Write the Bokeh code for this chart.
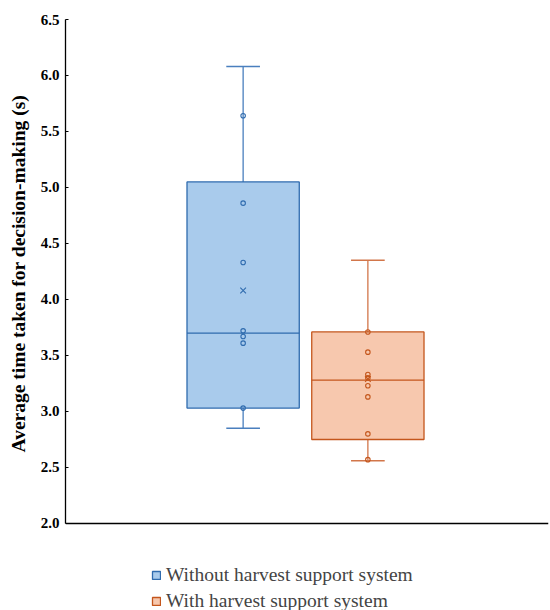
from bokeh.plotting import figure
from bokeh.models import Range1d, Legend, LegendItem, FixedTicker, ColumnDataSource, Span, PrintfTickFormatter, Title
from bokeh.embed import file_html
from bokeh.resources import INLINE

groups = ["Without harvest support system", "With harvest support system"]
positions = [1, 2]
q1 = [3.03, 2.75]
median = [3.70, 3.28]
q3 = [5.05, 3.71]
whisker_low = [2.85, 2.56]
whisker_high = [6.08, 4.35]
means = [4.08, 3.29]
points_without = [5.64, 4.86, 4.33, 3.72, 3.67, 3.61, 3.03]
points_with = [3.71, 3.53, 3.33, 3.30, 3.23, 3.13, 2.80, 2.57]
y_ticks = [2.0, 2.5, 3.0, 3.5, 4.0, 4.5, 5.0, 5.5, 6.0, 6.5]
y_min, y_max = 2.0, 6.5
y_label = "Average time taken for decision-making (s)"

fills = ["#A9CBEC", "#F7C8AE"]
lines = ["#2F6BAE", "#C4561C"]
whisker_cols = ["#4A7FBE", "#D2764A"]
SERIF = "Liberation Serif"

# frame extends below the value axis so the legend can sit under it
p = figure(width=550, height=610, output_backend="svg", toolbar_location=None,
           x_range=Range1d(-0.424, 3.448), y_range=Range1d(1.223, y_max),
           x_axis_location=None,
           min_border_left=64, min_border_right=2, min_border_top=19, min_border_bottom=0)
p.outline_line_color = None
p.grid.visible = False
p.background_fill_color = "white"

p.add_layout(Span(location=y_min, dimension="width", line_color="black", line_width=1.3))

box_w = 0.9
cap_w = 0.27
renderers = []
for i in range(2):
    x = positions[i]
    src = ColumnDataSource(dict(x=[x], top=[q3[i]], bottom=[q1[i]]))
    p.segment(x0=[x], y0=[q3[i]], x1=[x], y1=[whisker_high[i]], line_color=whisker_cols[i], line_width=1.3)
    p.segment(x0=[x], y0=[q1[i]], x1=[x], y1=[whisker_low[i]], line_color=whisker_cols[i], line_width=1.3)
    p.segment(x0=[x - cap_w / 2], y0=[whisker_high[i]], x1=[x + cap_w / 2], y1=[whisker_high[i]],
              line_color=whisker_cols[i], line_width=1.5)
    p.segment(x0=[x - cap_w / 2], y0=[whisker_low[i]], x1=[x + cap_w / 2], y1=[whisker_low[i]],
              line_color=whisker_cols[i], line_width=1.5)
    r = p.vbar(x="x", top="top", bottom="bottom", width=box_w, source=src,
               fill_color=fills[i], line_color=lines[i], line_width=1.3)
    renderers.append(r)
    p.segment(x0=[x - box_w / 2], y0=[median[i]], x1=[x + box_w / 2], y1=[median[i]],
              line_color=lines[i], line_width=1.3)
    pts = points_without if i == 0 else points_with
    p.scatter(x=[x] * len(pts), y=pts, marker="circle", size=4.5, fill_color=None,
              line_color=lines[i], line_width=1.1)
    p.scatter(x=[x], y=[means[i]], marker="x", size=8, line_color=lines[i], line_width=1.1)

p.yaxis.bounds = (y_min, y_max)
p.yaxis.ticker = FixedTicker(ticks=y_ticks)
p.yaxis.formatter = PrintfTickFormatter(format="%.1f")
p.yaxis.minor_tick_line_color = None
p.yaxis.major_tick_out = 0
p.yaxis.major_tick_in = 3
p.yaxis.major_label_standoff = 6
p.yaxis.axis_line_width = 1.3
p.yaxis.major_label_text_font = SERIF
p.yaxis.major_label_text_font_style = "bold"
p.yaxis.major_label_text_font_size = "15px"
p.yaxis.major_label_text_color = "black"

# axis title placed on the left side, anchored so it is centred on the value axis
p.add_layout(Title(text=y_label, align="left", offset=158, vertical_align="top",
                   text_font=SERIF, text_font_style="bold", text_font_size="19.5px",
                   text_color="black", standoff=14), "left")

legend = Legend(items=[LegendItem(label=groups[0], renderers=[renderers[0]]),
                       LegendItem(label=groups[1], renderers=[renderers[1]])],
                location=(86, -2), orientation="vertical",
                label_text_font=SERIF, label_text_font_size="19.5px",
                glyph_width=10, glyph_height=10, label_standoff=5, spacing=4,
                border_line_color=None, background_fill_alpha=0, padding=0, margin=0)
p.add_layout(legend, "center")

open("out.html", "w").write(file_html(p, INLINE))
